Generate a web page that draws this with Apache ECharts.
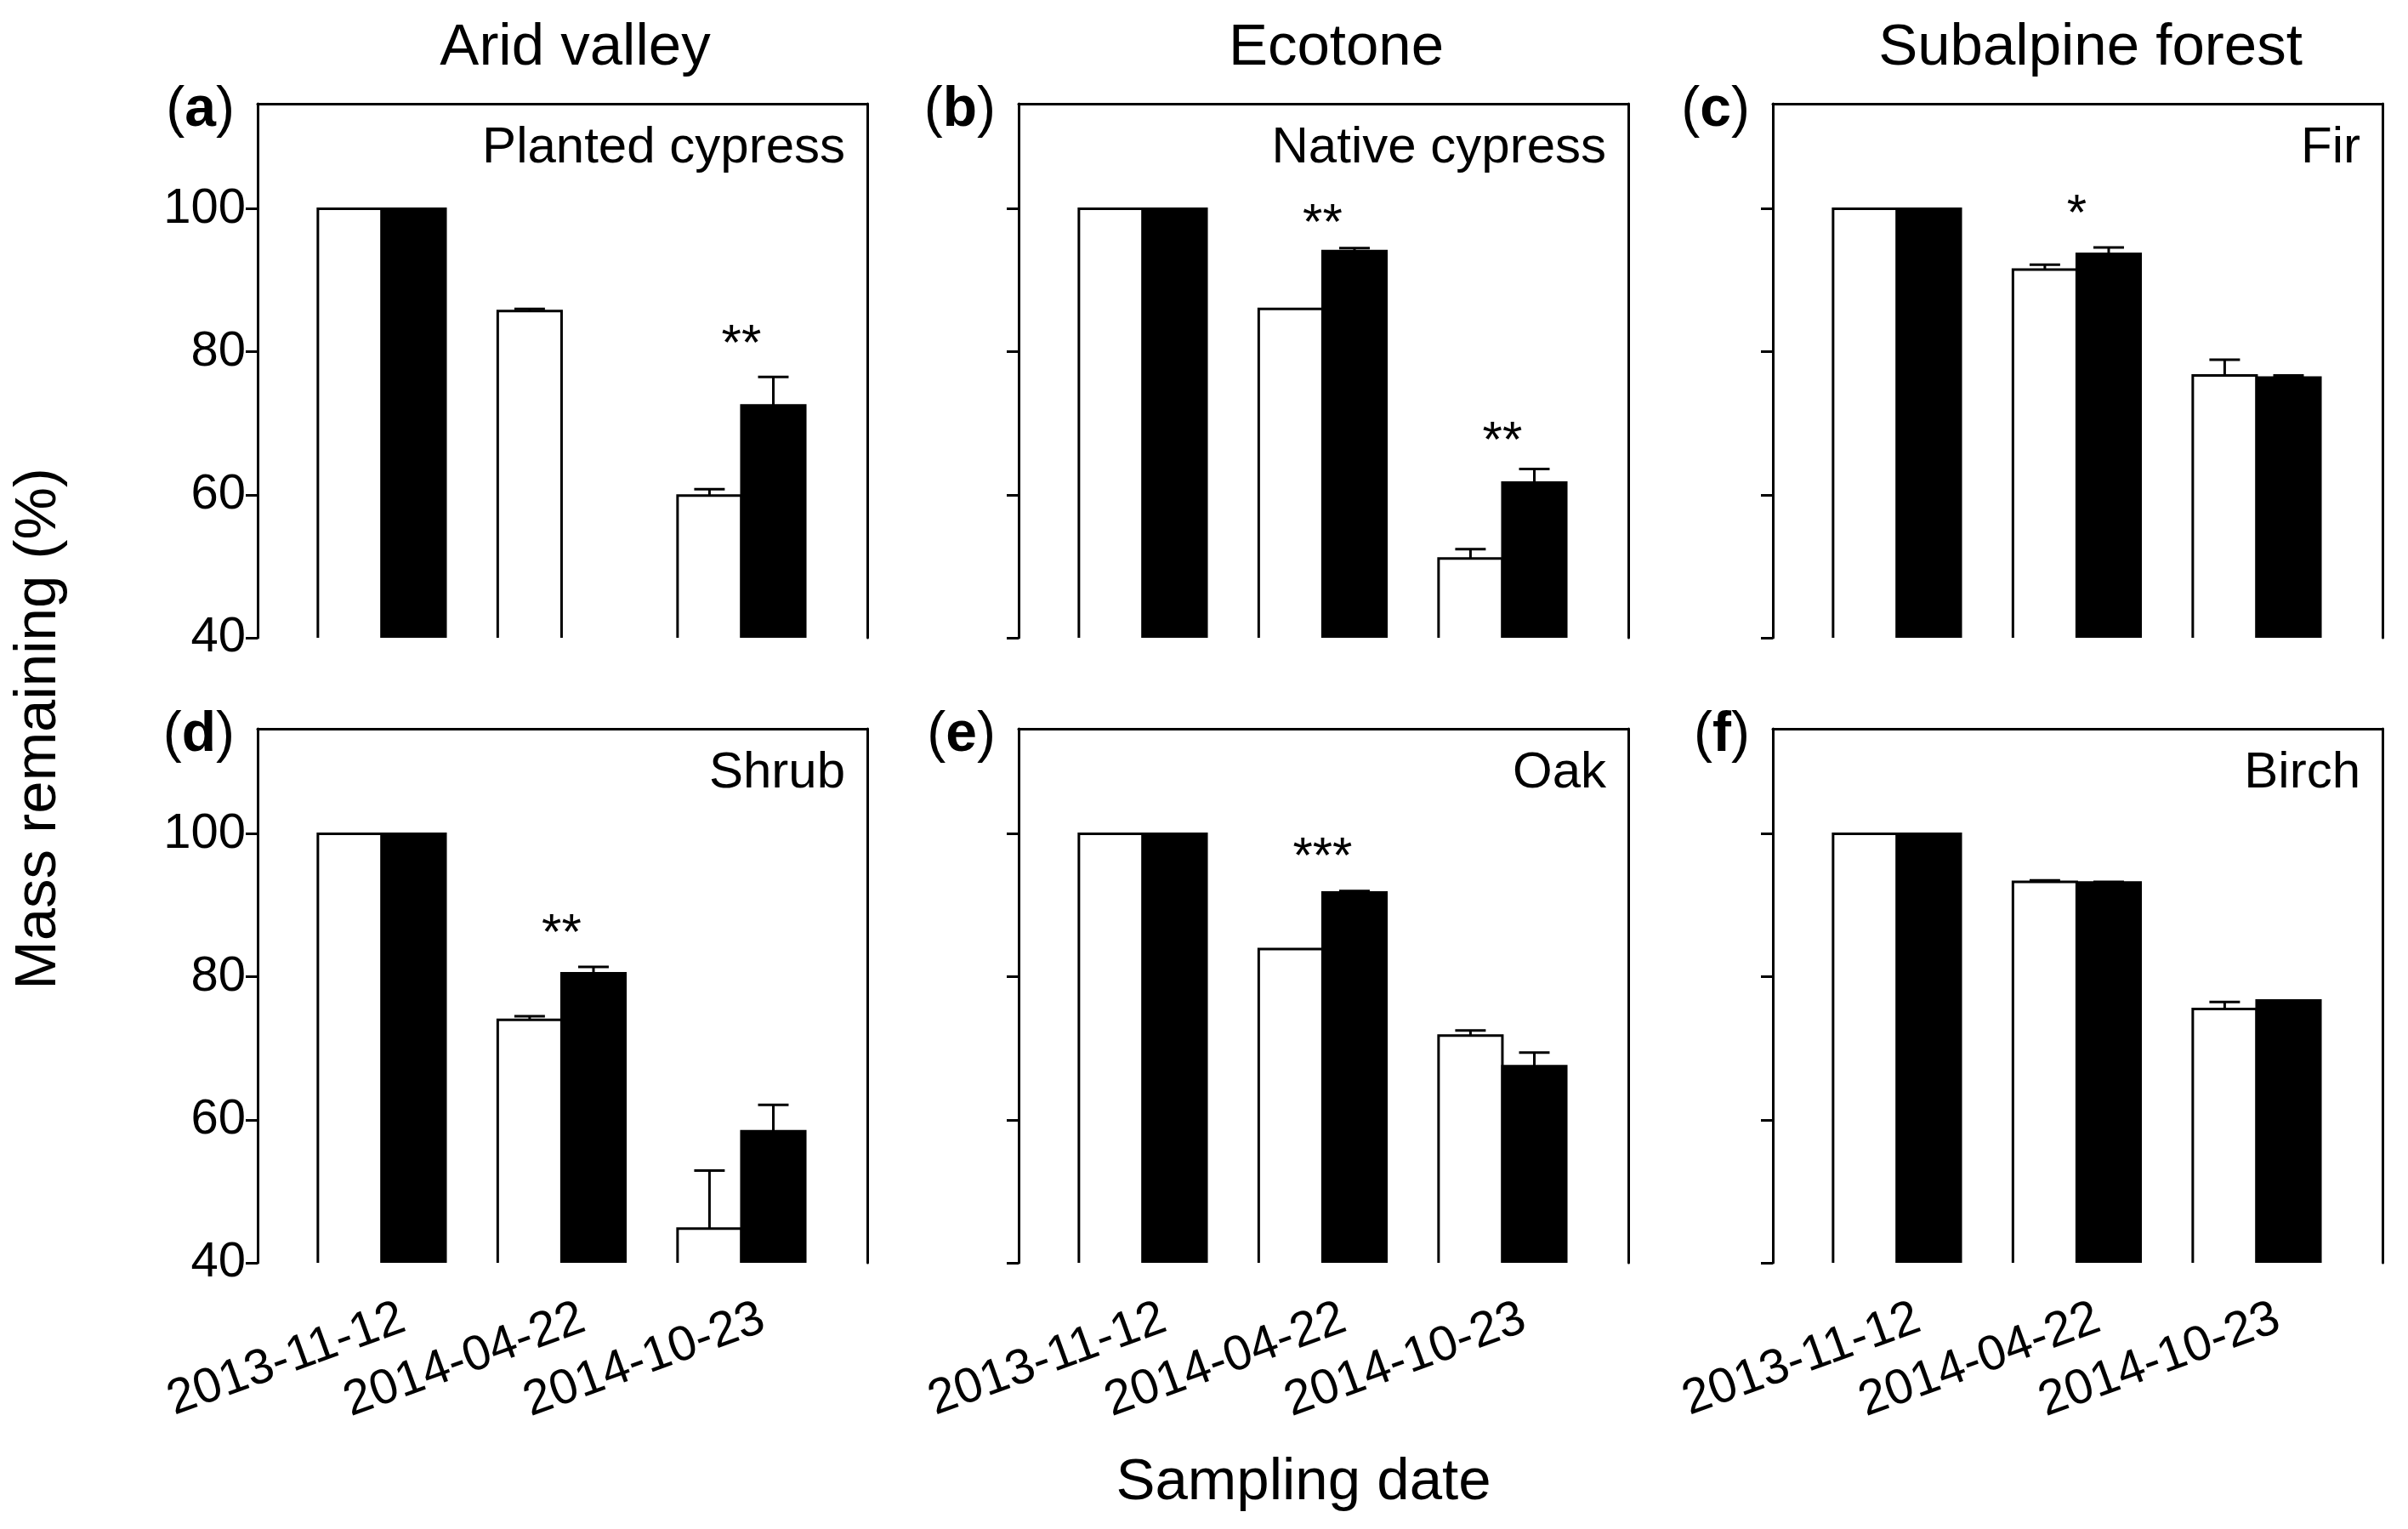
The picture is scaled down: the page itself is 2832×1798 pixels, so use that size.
<!DOCTYPE html>
<html>
<head>
<meta charset="utf-8">
<script src="https://cdn.jsdelivr.net/npm/echarts@6/dist/echarts.min.js"></script>
<style>
  html, body { margin: 0; padding: 0; background: #fff; }
  #main { width: 2832px; height: 1798px; }
</style>
</head>
<body>
<div id="main"></div>
<script>
// sampling dates (x categories) and panel texts
var dates = ['2013-11-12', '2014-04-22', '2014-10-23'];
var sites = ['Arid valley', 'Ecotone', 'Subalpine forest'];
var letters = ['a', 'b', 'c', 'd', 'e', 'f'];
var species = ['Planted cypress', 'Native cypress', 'Fir', 'Shrub', 'Oak', 'Birch'];
var yTicks = [40, 60, 80, 100];

// mass remaining (%), open bars and filled bars, one row per panel a..f
var openMean = [
    [100, 85.7, 59.9],
    [100, 86.0, 51.1],
    [100, 91.5, 76.7],
    [100, 74.0, 44.8],
    [100, 83.9, 71.8],
    [100, 93.3, 75.5]
];
var openErr = [
    [0, 0.3, 0.9],
    [0, 0, 1.3],
    [0, 0.7, 2.2],
    [0, 0.5, 8.1],
    [0, 0, 0.7],
    [0, 0.2, 1.0]
];
var filledMean = [
    [100, null, 72.5],
    [100, 94.1, 61.7],
    [100, 93.7, 76.4],
    [100, 80.5, 58.4],
    [100, 91.8, 67.5],
    [100, 93.2, 76.7]
];
var filledErr = [
    [0, 0, 4.0],
    [0, 0.4, 1.9],
    [0, 0.9, 0.3],
    [0, 0.9, 3.7],
    [0, 0.2, 1.9],
    [0, 0.1, 0]
];
// significance marks: [date index, text, height in %]
var sigMarks = [
    [[2, '**', 82.6]],
    [[1, '**', 99.5], [2, '**', 69.1]],
    [[1, '*', 100.8]],
    [[1, '**', 87.7]],
    [[1, '***', 98.3]],
    []
];

(function () {
    var FONT = '"Liberation Sans", Arial, sans-serif';
    var colLeft = [303, 1198, 2085];
    var rowTop = [122, 857];
    var PW = 717, PH = 628;
    var X_MIN = -0.69, X_MAX = 2.70, Y_MIN = 40, Y_MAX = 114.7;
    var BAR_W = 0.355, CAP = 0.085, LW = 3;

    function barRenderer(filled, means, errs) {
        return function (params, api) {
            var i = params.dataIndex;
            var v = means[i];
            if (v == null) return;
            var e = errs[i] || 0;
            var c = api.value(0);
            var x0 = filled ? c : c - BAR_W;
            var tl = api.coord([x0, v]);
            var br = api.coord([x0 + BAR_W, Y_MIN]);
            var children = [{
                type: 'rect',
                shape: { x: tl[0], y: tl[1], width: br[0] - tl[0], height: br[1] - tl[1] },
                style: { fill: filled ? '#000' : '#fff' }
            }, {
                type: 'polyline',
                shape: { points: [[tl[0], br[1]], [tl[0], tl[1]], [br[0], tl[1]], [br[0], br[1]]] },
                style: { fill: null, stroke: '#000', lineWidth: LW }
            }];
            if (e > 0) {
                var mid = x0 + BAR_W / 2;
                var p0 = api.coord([mid, v]);
                var p1 = api.coord([mid, v + e]);
                var cl = api.coord([mid - CAP, v + e]);
                var cr = api.coord([mid + CAP, v + e]);
                children.push({ type: 'line', shape: { x1: p0[0], y1: p0[1], x2: p1[0], y2: p1[1] }, style: { stroke: '#000', lineWidth: LW } });
                children.push({ type: 'line', shape: { x1: cl[0], y1: cl[1], x2: cr[0], y2: cr[1] }, style: { stroke: '#000', lineWidth: LW } });
            }
            return { type: 'group', children: children };
        };
    }

    function sigRenderer(marks) {
        return function (params, api) {
            var m = marks[params.dataIndex];
            var p = api.coord([m[0], m[2]]);
            return {
                type: 'text',
                x: p[0], y: p[1] + 15,
                style: { text: m[1], font: '60px ' + FONT, fill: '#000', align: 'center', verticalAlign: 'middle' }
            };
        };
    }

    var frameLine = { show: true, onZero: false, lineStyle: { color: '#000', width: LW } };
    var grids = [], xAxes = [], yAxes = [], series = [], graphics = [];

    for (var k = 0; k < 6; k++) {
        var col = k % 3, row = Math.floor(k / 3);
        var gx = colLeft[col], gy = rowTop[row];
        grids.push({ left: gx, top: gy, width: PW, height: PH });

        // bottom x axis, labels only on the lower row
        xAxes.push({
            type: 'value', gridIndex: k, min: X_MIN, max: X_MAX,
            axisLine: { show: false, onZero: false }, axisTick: { show: false }, splitLine: { show: false },
            axisLabel: {
                show: row === 1,
                customValues: [0.12, 1.12, 2.12],
                formatter: function (v) { return dates[Math.round(v)]; },
                rotate: 20, margin: 64,
                fontSize: 58, fontFamily: FONT, color: '#000'
            }
        });
        // top frame line
        xAxes.push({
            type: 'value', gridIndex: k, position: 'top', min: X_MIN, max: X_MAX,
            axisLine: frameLine,
            axisTick: { show: false }, axisLabel: { show: false }, splitLine: { show: false }
        });
        yAxes.push({
            type: 'value', gridIndex: k, position: 'left', min: Y_MIN, max: Y_MAX,
            axisLine: frameLine,
            axisTick: { show: true, inside: false, length: 14, customValues: yTicks, lineStyle: { color: '#000', width: LW } },
            axisLabel: { show: col === 0, customValues: yTicks, margin: 14, fontSize: 58, fontFamily: FONT, color: '#000' },
            splitLine: { show: false }
        });
        // right frame line
        yAxes.push({
            type: 'value', gridIndex: k, position: 'right', min: Y_MIN, max: Y_MAX,
            axisLine: frameLine,
            axisTick: { show: false }, axisLabel: { show: false }, splitLine: { show: false }
        });

        var ai = k * 2;
        var cats = dates.map(function (d, i) { return [i, 0]; });
        series.push({
            type: 'custom', xAxisIndex: ai, yAxisIndex: ai, clip: false,
            renderItem: barRenderer(false, openMean[k], openErr[k]),
            data: cats
        });
        series.push({
            type: 'custom', xAxisIndex: ai, yAxisIndex: ai, clip: false,
            renderItem: barRenderer(true, filledMean[k], filledErr[k]),
            data: cats
        });
        if (sigMarks[k].length) {
            series.push({
                type: 'custom', xAxisIndex: ai, yAxisIndex: ai, clip: false,
                renderItem: sigRenderer(sigMarks[k]),
                data: sigMarks[k].map(function (m) { return [m[0], m[2]]; })
            });
        }

        // species name, top right inside the frame
        graphics.push({
            type: 'text', x: gx + PW - 26, y: gy + 52,
            style: { text: species[k], font: '60px ' + FONT, fill: '#000', align: 'right', verticalAlign: 'middle' }
        });
        // panel letter
        graphics.push({
            type: 'text', x: gx - 27, y: gy + 8,
            style: {
                text: '({b|' + letters[k] + '})',
                fontSize: 66, fontFamily: FONT, fill: '#000', align: 'right', verticalAlign: 'middle',
                rich: { b: { fontSize: 66, fontFamily: FONT, fontWeight: 'bold', fill: '#000' } }
            }
        });
    }

    for (var c = 0; c < 3; c++) {
        graphics.push({
            type: 'text', x: colLeft[c] + PW / 2 + 15, y: 57,
            style: { text: sites[c], font: '69px ' + FONT, fill: '#000', align: 'center', verticalAlign: 'middle' }
        });
    }
    graphics.push({
        type: 'text', x: 46, y: 857, rotation: Math.PI / 2,
        style: { text: 'Mass remaining (%)', font: '69px ' + FONT, fill: '#000', align: 'center', verticalAlign: 'middle' }
    });
    graphics.push({
        type: 'text', x: 1533, y: 1744,
        style: { text: 'Sampling date', font: '69px ' + FONT, fill: '#000', align: 'center', verticalAlign: 'middle' }
    });

    var chart = echarts.init(document.getElementById('main'), null, { renderer: 'canvas' });
    chart.setOption({
        backgroundColor: '#fff',
        animation: false,
        grid: grids,
        xAxis: xAxes,
        yAxis: yAxes,
        series: series,
        graphic: graphics
    });
})();
</script>
</body>
</html>
